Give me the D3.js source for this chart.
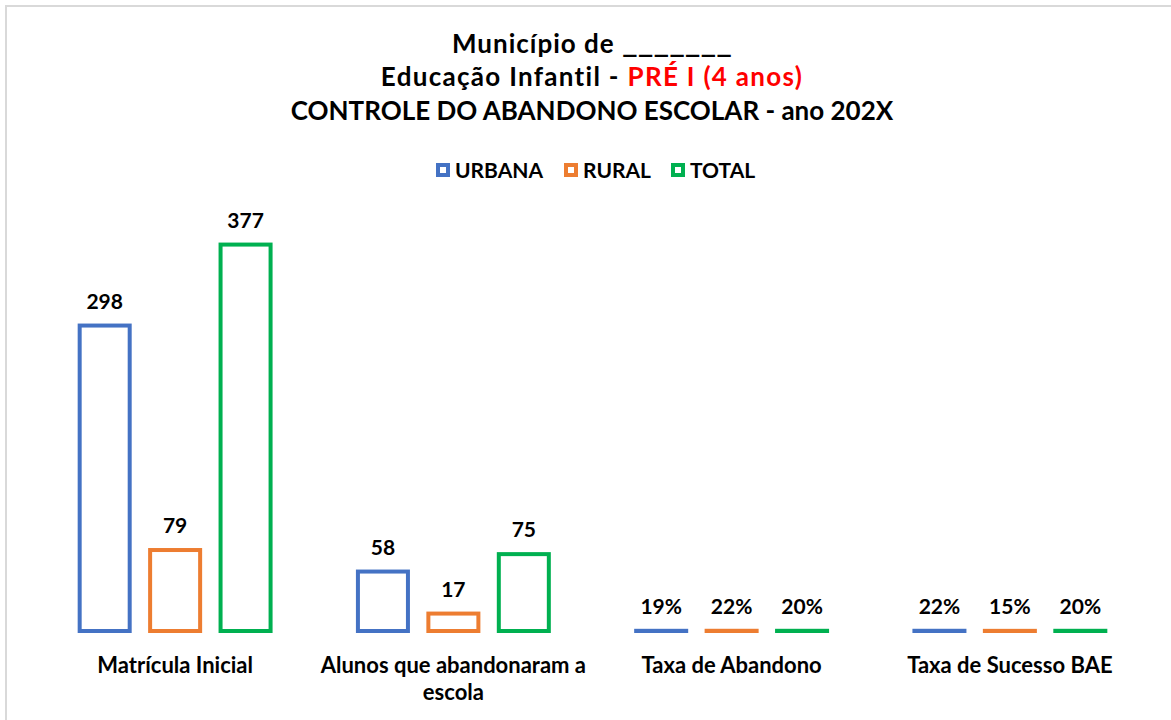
<!DOCTYPE html>
<meta charset="utf-8">
<script src="https://d3js.org/d3.v7.min.js"></script>
<style>
  body { margin: 0; background: #fff; }
  text { font-family: Lato, "Open Sans", sans-serif; font-weight: bold; }
</style>
<div id="chart"></div>
<script>
// data
const categories = ["Matrícula Inicial", "Alunos que abandonaram a escola", "Taxa de Abandono", "Taxa de Sucesso BAE"];
const seriesNames = ["URBANA", "RURAL", "TOTAL"];
const urbana = [298, 58, 0.19, 0.22];
const rural = [79, 17, 0.22, 0.15];
const total = [377, 75, 0.20, 0.20];
const colors = ["#4472C4", "#ED7D31", "#00B050"];

const W = 1171, H = 720;
const plot = {left: 36, right: 1149, top: 221, bottom: 631};

const svg = d3.select("#chart").append("svg")
  .attr("width", W).attr("height", H);

// chart frame
svg.append("rect")
  .attr("x", 6).attr("y", 6).attr("width", W + 20).attr("height", H + 20)
  .attr("fill", "#fff").attr("stroke", "#d9d9d9").attr("stroke-width", 2);

// titles
const title = svg.append("text").attr("text-anchor", "middle").attr("font-size", 26).attr("fill", "#000");
const t1 = title.append("tspan").attr("x", 592).attr("y", 53);
t1.append("tspan").attr("letter-spacing", 1).text("Município de ");
t1.append("tspan").attr("textLength", 110).attr("lengthAdjust", "spacingAndGlyphs").text("_______");
const t2 = title.append("tspan").attr("x", 592).attr("y", 86).attr("letter-spacing", 1.3);
t2.append("tspan").text("Educação Infantil - ");
t2.append("tspan").attr("fill", "#FF0000").text("PRÉ I (4 anos)");
title.append("tspan").attr("x", 592).attr("y", 120).text("CONTROLE DO ABANDONO ESCOLAR - ano 202X");

// legend
const legendX = [436, 564, 671];
const legend = svg.selectAll(".leg").data(seriesNames).join("g")
  .attr("transform", (d, i) => `translate(${legendX[i]},163)`);
legend.append("rect")
  .attr("x", 2).attr("y", 2).attr("width", 10).attr("height", 10)
  .attr("fill", "#fff").attr("stroke", (d, i) => colors[i]).attr("stroke-width", 4);
legend.append("text")
  .attr("x", 19).attr("y", 14.5).attr("font-size", 21).text(d => d);

// scales
const x0 = d3.scaleBand().domain(categories).range([plot.left, plot.right]).paddingInner(0).paddingOuter(0);
const x1 = d3.scaleBand().domain(seriesNames).range([0, x0.bandwidth()]).paddingInner(0.29).paddingOuter(0.62);
const y = d3.scaleLinear().domain([0, 400]).range([plot.bottom, plot.top]);

const rows = categories.map((c, i) => ({cat: c, vals: [urbana[i], rural[i], total[i]]}));
const fmt = v => v < 1 ? d3.format(".0%")(v) : d3.format("d")(v);

const groups = svg.selectAll(".grp").data(rows).join("g")
  .attr("transform", d => `translate(${x0(d.cat)},0)`);

const bars = groups.selectAll("g").data(d => d.vals.map((v, i) => ({s: seriesNames[i], v, i}))).join("g");
bars.append("rect")
  .attr("x", d => x1(d.s))
  .attr("y", d => y(d.v))
  .attr("width", x1.bandwidth())
  .attr("height", d => Math.max(0, y(0) - y(d.v)))
  .attr("fill", "#fff")
  .attr("stroke", d => colors[d.i])
  .attr("stroke-width", 4);
bars.append("text")
  .attr("x", d => x1(d.s) + x1.bandwidth() / 2)
  .attr("y", d => y(d.v) - 17)
  .attr("text-anchor", "middle")
  .attr("font-size", 21)
  .text(d => fmt(d.v));

// category labels with wrapping
const wrapW = 285;
groups.append("text")
  .attr("text-anchor", "middle")
  .attr("font-size", 22)
  .each(function(d) {
    const el = d3.select(this);
    const words = d.cat.split(" ");
    let line = [], lines = [];
    const probe = el.append("tspan");
    words.forEach(w => {
      line.push(w);
      probe.text(line.join(" "));
      if (probe.node().getComputedTextLength() > wrapW && line.length > 1) {
        line.pop();
        lines.push(line.join(" "));
        line = [w];
      }
    });
    lines.push(line.join(" "));
    probe.remove();
    lines.forEach((l, k) => {
      el.append("tspan").attr("x", x0.bandwidth() / 2).attr("y", 673 + k * 27).text(l);
    });
  });
</script>
